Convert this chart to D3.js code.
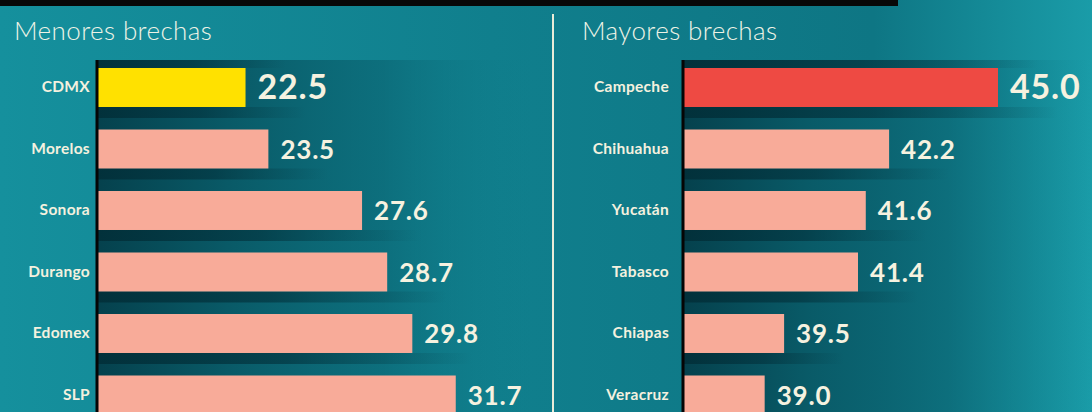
<!DOCTYPE html>
<html lang="es">
<head>
    <meta charset="UTF-8">
    <title>Brechas por estado</title>
    <script src="https://d3js.org/d3.v7.min.js"></script>
    <style>
        html, body { margin: 0; padding: 0; background: #0f7f8d; }
        svg { display: block; }
        .title { font-family: Lato, "Open Sans", sans-serif; font-weight: 300; fill: #eef3e6; letter-spacing: 0.4px; }
        .cat { font-family: Lato, "Open Sans", sans-serif; font-weight: 700; fill: #f4f1df; letter-spacing: 0.3px; }
        .val { font-family: Lato, "Open Sans", sans-serif; font-weight: 700; fill: #f6f2e0; letter-spacing: 0.8px; }
    </style>
</head>
<body>
<svg width="1092" height="412"></svg>
<script>
    // datos
    const menoresEstados = ["CDMX", "Morelos", "Sonora", "Durango", "Edomex", "SLP"];
    const menoresValores = [22.5, 23.5, 27.6, 28.7, 29.8, 31.7];
    const mayoresEstados = ["Campeche", "Chihuahua", "Yucatán", "Tabasco", "Chiapas", "Veracruz"];
    const mayoresValores = [45.0, 42.2, 41.6, 41.4, 39.5, 39.0];

    const svg = d3.select("svg"),
          width = +svg.attr("width"),
          height = +svg.attr("height");

    const defs = svg.append("defs");

    function gradient(id, stops) {
        const gr = defs.append("linearGradient").attr("id", id)
            .attr("x1", 0).attr("x2", 1).attr("y1", 0).attr("y2", 0);
        stops.forEach(s => gr.append("stop")
            .attr("offset", s[0]).attr("stop-color", s[1]).attr("stop-opacity", s[2] ?? 1));
    }

    // fondo general
    gradient("bg", [["0%", "#15909d"], ["45%", "#107f8d"], ["80%", "#0e7684"], ["100%", "#1a9ca8"]]);
    // sombra del area de barras
    gradient("shade", [["0%", "#05414d"], ["30%", "#095a67"], ["65%", "#0b6674", 0.7], ["100%", "#0f7d8b", 0]]);
    // sombra bajo cada barra
    gradient("barShade", [["0%", "#02303a", 0.95], ["50%", "#033641", 0.7], ["100%", "#05404b", 0]]);

    svg.append("rect").attr("width", width).attr("height", height).attr("fill", "url(#bg)");

    // banda negra superior
    svg.append("rect").attr("x", 0).attr("y", 0).attr("width", 898).attr("height", 6).attr("fill", "#080808");

    // separador
    svg.append("line")
        .attr("x1", 553).attr("x2", 553).attr("y1", 14).attr("y2", height)
        .attr("stroke", "#e9ecd8").attr("stroke-width", 2);

    function panel(estados, valores, opts) {
        const x = d3.scaleLinear().domain(opts.domain).range(opts.range);
        const y = d3.scaleBand().domain(estados)
            .range([68, 68 + estados.length * 61.5])
            .paddingInner(0.366).paddingOuter(0.183).align(0);

        const g = svg.append("g");

        g.append("text").attr("class", "title")
            .attr("x", opts.titleX).attr("y", 40)
            .attr("font-size", 26)
            .text(opts.title);

        g.append("rect")
            .attr("x", opts.range[0]).attr("y", 60)
            .attr("width", opts.shadeW).attr("height", height - 60)
            .attr("fill", "url(#shade)");

        // sombra justo debajo de cada barra
        g.selectAll(".sh").data(estados).join("rect")
            .attr("class", "sh")
            .attr("x", opts.range[0])
            .attr("y", d => y(d) + y.bandwidth())
            .attr("width", (d, i) => x(valores[i]) - opts.range[0] + 60)
            .attr("height", 11)
            .attr("fill", "url(#barShade)");

        g.append("rect")
            .attr("x", opts.range[0]).attr("y", 60)
            .attr("width", x(valores[0]) - opts.range[0] + 40).attr("height", 8)
            .attr("fill", "url(#barShade)");

        g.selectAll(".bar").data(estados).join("rect")
            .attr("class", "bar")
            .attr("x", x(opts.domain[0]))
            .attr("y", d => y(d))
            .attr("width", (d, i) => x(valores[i]) - x(opts.domain[0]))
            .attr("height", y.bandwidth())
            .attr("fill", (d, i) => i === 0 ? opts.highlight : "#f8ab99");

        // eje vertical
        g.append("line")
            .attr("x1", opts.range[0]).attr("x2", opts.range[0])
            .attr("y1", 60).attr("y2", height)
            .attr("stroke", "#050505").attr("stroke-width", 3);

        g.selectAll(".cat").data(estados).join("text")
            .attr("class", "cat")
            .attr("x", opts.range[0] - opts.labelGap)
            .attr("y", d => y(d) + y.bandwidth() / 2 + 5)
            .attr("text-anchor", "end")
            .attr("font-size", 15.5)
            .text(d => d);

        g.selectAll(".val").data(estados).join("text")
            .attr("class", "val")
            .attr("x", (d, i) => x(valores[i]) + 12)
            .attr("y", d => y(d) + y.bandwidth() / 2 + (d === estados[0] ? 12 : 10))
            .attr("font-size", (d, i) => i === 0 ? 34 : 26)
            .attr("font-weight", (d, i) => i === 0 ? 900 : 600)
            .text((d, i) => valores[i].toFixed(1));
    }

    panel(menoresEstados, menoresValores, {
        title: "Menores brechas", titleX: 14,
        domain: [16, 32], range: [97, 462.6],
        shadeW: 440, labelGap: 7, highlight: "#ffe100"
    });

    panel(mayoresEstados, mayoresValores, {
        title: "Mayores brechas", titleX: 582,
        domain: [36.9, 45], range: [683, 998],
        shadeW: 409, labelGap: 14, highlight: "#ee4a43"
    });
</script>
</body>
</html>
